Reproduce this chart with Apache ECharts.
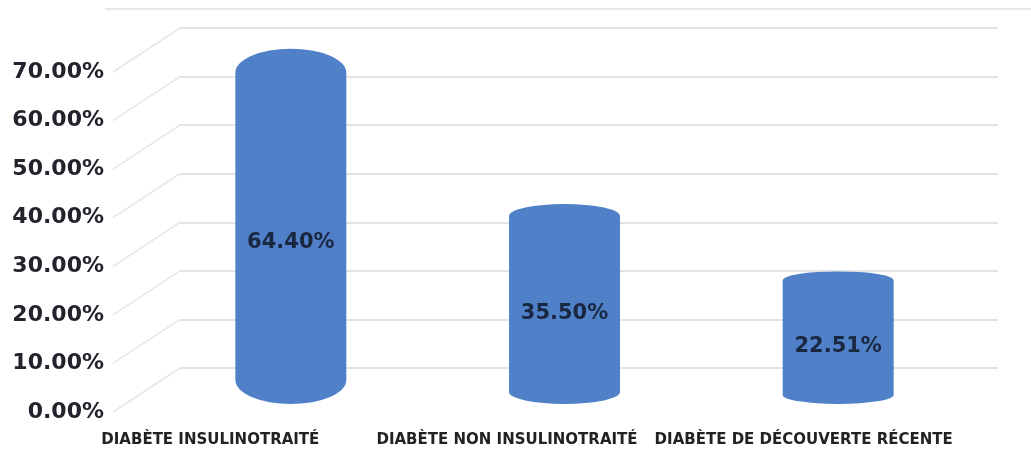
<!DOCTYPE html>
<html>
<head>
<meta charset="utf-8">
<script src="https://cdn.jsdelivr.net/npm/echarts@6/dist/echarts.min.js"></script>
<style>
  html, body { margin: 0; padding: 0; background: #fff; }
  #chart { width: 1031px; height: 452px; }
</style>
</head>
<body>
<div id="chart"></div>
<script>
// données
const categories = ['DIABÈTE INSULINOTRAITÉ', 'DIABÈTE NON INSULINOTRAITÉ', 'DIABÈTE DE DÉCOUVERTE RÉCENTE'];
const values = [64.40, 35.50, 22.51];
const yTicks = [0, 10, 20, 30, 40, 50, 60, 70];

// style du pseudo 3D
const capRy = [24, 12, 9];      // demi-hauteur des ellipses de chaque cylindre
const depth = [67, 44];         // décalage avant -> fond
const barW = 111;
const blue = '#4f80c8';
const font = 'DejaVu Sans';

const chart = echarts.init(document.getElementById('chart'));

const option = {
  backgroundColor: '#fff',
  animation: false,
  grid: [
    { left: 154, right: 56, top: 45, bottom: 60 },   // cylindres
    { left: 180, right: 33, top: 28, bottom: 84 },   // mur du fond
    { left: 112, right: 800, top: 72, bottom: 40 },  // axe y avant
    { left: 62, right: 79, top: 300, bottom: 24 }    // libellés catégories
  ],
  xAxis: [
    { gridIndex: 0, type: 'category', data: categories, show: false },
    { gridIndex: 1, type: 'value', min: 0, max: 1, show: false },
    { gridIndex: 2, type: 'value', min: 0, max: 1, show: false },
    {
      gridIndex: 3, type: 'category', data: categories,
      axisLine: { show: false }, axisTick: { show: false },
      axisLabel: { interval: 0, margin: 5, fontFamily: font, fontWeight: 'bold', fontSize: 15, color: '#222' }
    }
  ],
  yAxis: [
    { gridIndex: 0, type: 'value', min: 0, max: 70, show: false },
    {
      gridIndex: 1, type: 'value', min: 0, max: 70, interval: 10,
      axisLabel: { show: false }, axisLine: { show: false }, axisTick: { show: false },
      splitLine: { lineStyle: { color: '#e3e3e3', width: 2 } }
    },
    {
      gridIndex: 2, type: 'value', min: yTicks[0], max: yTicks[yTicks.length - 1], interval: 10,
      axisLine: { show: false }, axisTick: { show: false }, splitLine: { show: false },
      axisLabel: {
        margin: 8, fontFamily: font, fontWeight: 'bold', fontSize: 22, color: '#22232c',
        formatter: v => v.toFixed(2) + '%'
      }
    },
    { gridIndex: 3, type: 'value', show: false }
  ],
  graphic: [
    { type: 'line', shape: { x1: 105, y1: 9, x2: 1031, y2: 9 }, style: { stroke: '#e8e8e8', lineWidth: 2 }, silent: true }
  ],
  series: [
    {
      // diagonales (perspective)
      type: 'custom',
      xAxisIndex: 1, yAxisIndex: 1,
      clip: false,
      silent: true,
      data: yTicks.map(v => [0, v]),
      renderItem(params, api) {
        const p = api.coord([0, api.value(1)]);
        return {
          type: 'line',
          shape: { x1: p[0] - depth[0], y1: p[1] + depth[1], x2: p[0], y2: p[1] },
          style: { stroke: '#e6e6e6', lineWidth: 1.5 }
        };
      }
    },
    {
      // cylindres
      type: 'custom',
      xAxisIndex: 0, yAxisIndex: 0,
      clip: false,
      data: values.map((v, i) => [i, v]),
      renderItem(params, api) {
        const i = api.value(0);
        const v = api.value(1);
        const top = api.coord([i, v]);
        const base = api.coord([i, 0]);
        const ry = capRy[i];
        const rx = barW / 2;
        const l = top[0] - rx, r = top[0] + rx;
        const ty = top[1];
        const by = base[1] + 12 - ry;
        const d = 'M' + l + ' ' + ty +
          ' A' + rx + ' ' + ry + ' 0 0 1 ' + r + ' ' + ty +
          ' L' + r + ' ' + by +
          ' A' + rx + ' ' + ry + ' 0 0 1 ' + l + ' ' + by + ' Z';
        return {
          type: 'group',
          children: [
            { type: 'path', shape: { pathData: d }, style: { fill: blue } },
            {
              type: 'text',
              x: top[0], y: (top[1] + base[1]) / 2 + 10,
              style: {
                text: v.toFixed(2) + '%',
                fontFamily: font, fontWeight: 'bold', fontSize: 21,
                fill: '#1a2740', align: 'center', verticalAlign: 'middle'
              }
            }
          ]
        };
      }
    }
  ]
};

chart.setOption(option);
</script>
</body>
</html>
